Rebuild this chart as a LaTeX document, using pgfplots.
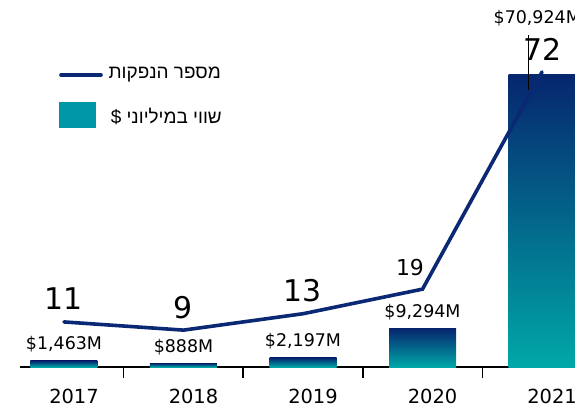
\documentclass[border=0pt]{standalone}
\usepackage{pgfplots}
\usepackage{pgfplotstable}
\pgfplotsset{compat=1.18}
\usepackage{fontspec}
\setmainfont{DejaVu Sans}
\newfontfamily\hebfont[Script=Hebrew]{Liberation Sans}
\TeXXeTstate=1
\definecolor{navy}{RGB}{6,38,110}
\definecolor{tealb}{RGB}{0,168,168}
\definecolor{legteal}{RGB}{0,152,168}
\definecolor{linec}{RGB}{10,40,115}

\pgfplotstableread{
x y lab
0 11 11
1 9 9
2 13 13
3 19 {}
4 72 72
}\linetable

\pgfplotsset{
  gbar/.style={draw=none, bar shift=0pt, top color=navy, middle color=navy!55!tealb, bottom color=tealb,
    every node near coord/.style={anchor=center, yshift=16.5bp, font=\fontsize{17.5}{18}\selectfont, black}},
}

\begin{document}
\begin{tikzpicture}[x=1bp,y=1bp]
\useasboundingbox (0,0) rectangle (575,407);
\clip (0,0) rectangle (575,407);
\begin{axis}[
  at={(20bp,40bp)}, anchor=south west,
  scale only axis, width=555bp, height=367bp,
  xmin=-0.368, xmax=4.276, ymin=0, ymax=89140,
  enlargelimits=false, clip=false,
  axis x line*=bottom, axis y line=none,
  x axis line style={line width=1.5bp, black},
  tick style={line width=1.5bp, black},
  xtick={0,1,2,3,4},
  xticklabels={2017,2018,2019,2020,2021},
  major tick length=0pt,
  extra x ticks={0.5,1.5,2.5,3.5},
  extra x tick labels={},
  extra x tick style={major tick length=11bp, tick align=outside},
  xticklabel style={font=\fontsize{19.5}{20}\selectfont, inner sep=0pt, xshift=10bp, yshift=-22bp},
  ybar, bar width=67bp,
]
\addplot[gbar, nodes near coords={\$1,463M}] coordinates {(0,1463)};
\addplot[gbar, nodes near coords={\$888M}] coordinates {(1,888)};
\addplot[gbar, nodes near coords={\$2,197M}] coordinates {(2,2197)};
\addplot[gbar, nodes near coords={\$9,294M}] coordinates {(3,9294)};
\addplot[gbar] coordinates {(4,70924)};
\node[font=\fontsize{17.5}{18}\selectfont, black] at (axis cs:3.96,84770) {\$70,924M};
\draw[black, line width=0.9bp] (axis cs:3.89,80640) -- (axis cs:3.89,67280);
\end{axis}
\begin{axis}[
  at={(20bp,40bp)}, anchor=south west,
  scale only axis, width=555bp, height=367bp,
  xmin=-0.368, xmax=4.276, ymin=0, ymax=89.56,
  enlargelimits=false, clip=false,
  axis lines=none,
]
\addplot[linec, line width=3.6bp, line cap=round,
  point meta=explicit symbolic,
  nodes near coords,
  every node near coord/.style={anchor=center, yshift=23bp, font=\fontsize{30}{30}\selectfont, black}]
  table[x=x, y=y, meta=lab] {\linetable};
\node[font=\fontsize{22}{22}\selectfont, black] at (axis cs:2.895,24.2) {19};
\end{axis}
% legend
\draw[linec, line width=3.6bp, line cap=round] (61,332) -- (101,332);
\fill[legteal] (59,279) rectangle (96,305);
\node[anchor=east, inner sep=0pt, font=\hebfont\fontsize{19}{19}\selectfont] at (221,332) {\beginR מספר הנפקות\endR};
\node[anchor=east, inner sep=0pt, font=\hebfont\fontsize{19}{19}\selectfont] at (222,291) {\beginR שווי במיליוני \$\endR};
\end{tikzpicture}
\end{document}
